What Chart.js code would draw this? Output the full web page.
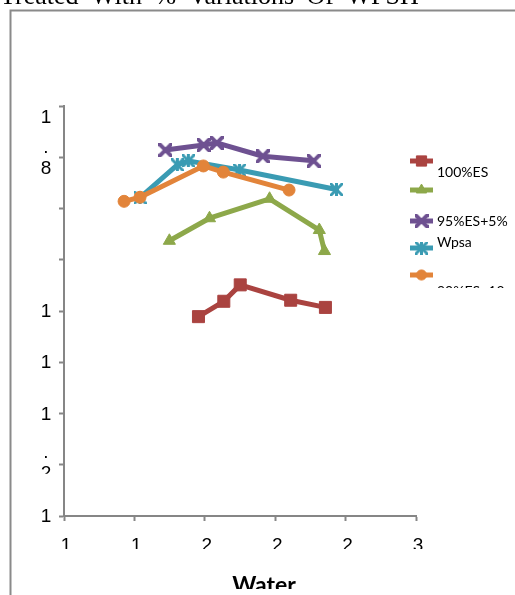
<!DOCTYPE html>
<html>
<head>
<meta charset="utf-8">
<script src="https://cdn.jsdelivr.net/npm/chart.js@4.4.0/dist/chart.umd.min.js"></script>
<style>
  html, body { margin: 0; padding: 0; background: #fff; overflow: hidden; }
  canvas { display: block; }
</style>
</head>
<body>
<canvas id="c" width="515" height="595"></canvas>
<script>
// Compaction curves: dry density against water content for each mix
const titleText = 'Treated With % Variations Of WPSH';
const xAxisTitle = 'Water';

const water100 = [20.73, 21.81, 22.51, 24.66, 26.14];
const density100 = [1.489, 1.519, 1.551, 1.521, 1.507];

const waterB = [19.49, 21.20, 23.76, 25.88, 26.10];
const densityB = [1.637, 1.681, 1.719, 1.658, 1.617];

const water95 = [19.32, 20.95, 21.51, 23.47, 25.64];
const density95 = [1.814, 1.824, 1.828, 1.802, 1.793];

const waterD = [18.24, 19.83, 20.30, 22.48, 26.61];
const densityD = [1.721, 1.785, 1.793, 1.775, 1.737];

const water90 = [17.56, 18.24, 20.94, 21.79, 24.59];
const density90 = [1.714, 1.722, 1.783, 1.771, 1.736];

// Axis range and visible tick texts
const xMin = 15, xMax = 30, xStep = 3;
const yMin = 1.1, yMax = 1.9, yStep = 0.1;
const xTickLabels = ['1', '1', '2', '2', '2', '3'];
// one entry per y tick, bottom to top; each entry is a list of lines
const yTickLabels = [['1'], ['.', '2'], ['1'], ['1'], ['1'], [], [], ['.', '8'], ['', '1']];

const legendText = ['100%ES', '', '95%ES+5%', 'Wpsa', '90%ES+10'];

const colors = ['#AA4340', '#8DA84A', '#6E5191', '#3A9BB3', '#E2843A'];

// Small marker images: an "x" with flat ends and an "x" crossed by a vertical bar
function xMarker(color, size, lw, withBar) {
  const c = document.createElement('canvas');
  c.width = size; c.height = size;
  const g = c.getContext('2d');
  g.strokeStyle = color;
  g.lineWidth = lw;
  g.lineCap = 'butt';
  g.beginPath();
  g.moveTo(-2, -2); g.lineTo(size + 2, size + 2);
  g.moveTo(size + 2, -2); g.lineTo(-2, size + 2);
  if (withBar) { g.moveTo(size / 2, 0); g.lineTo(size / 2, size); }
  g.stroke();
  return c;
}

function pts(xs, ys) { return xs.map((x, i) => ({ x: x, y: ys[i] })); }

function series(label, xs, ys, color, style, radius, pbw, order) {
  return {
    label: label,
    data: pts(xs, ys),
    borderColor: color,
    backgroundColor: color,
    borderWidth: 5,
    borderJoinStyle: 'round',
    borderCapStyle: 'round',
    tension: 0,
    pointStyle: style,
    pointRadius: radius,
    pointBorderWidth: pbw,
    pointBackgroundColor: color,
    pointBorderColor: color,
    order: order
  };
}

const datasets = [
  series(legendText[0], water100, density100, colors[0], 'rect', 8.5, 1, 4),
  series(legendText[1], waterB, densityB, colors[1], 'triangle', 7, 1, 3),
  series(legendText[2], water95, density95, colors[2], xMarker(colors[2], 14, 4, false), 7, 1, 2),
  series(legendText[3], waterD, densityD, colors[3], xMarker(colors[3], 13, 3, true), 7, 1, 1),
  series(legendText[4], water90, density90, colors[4], 'circle', 6, 1, 0)
];

const axisGray = '#868686';

// Frame, title, tick texts, axis title and legend drawn on the canvas
const decor = {
  id: 'decor',
  afterDraw(chart) {
    const ctx = chart.ctx;
    const xs = chart.scales.x, ys = chart.scales.y;

    // outer frame
    ctx.save();
    ctx.strokeStyle = '#8a8a8a';
    ctx.lineWidth = 2;
    ctx.beginPath();
    ctx.moveTo(10.5, 600);
    ctx.lineTo(10.5, 10.5);
    ctx.lineTo(520, 10.5);
    ctx.stroke();
    ctx.restore();

    // title
    ctx.save();
    ctx.fillStyle = '#000';
    ctx.font = '26px "Liberation Serif"';
    ctx.textBaseline = 'alphabetic';
    ctx.textAlign = 'left';
    if ('wordSpacing' in ctx) ctx.wordSpacing = '6px';
    ctx.fillText(titleText, 0, 4);
    ctx.restore();

    // x tick texts
    ctx.save();
    ctx.beginPath();
    ctx.rect(0, 520, 515, 29);
    ctx.clip();
    ctx.fillStyle = '#000';
    ctx.font = '19px "Liberation Sans"';
    ctx.textAlign = 'center';
    ctx.textBaseline = 'alphabetic';
    xs.ticks.forEach((t, i) => {
      const px = xs.getPixelForValue(t.value);
      ctx.fillText(xTickLabels[i] || '', px + 2, 551);
    });
    ctx.restore();

    // y tick texts
    ctx.save();
    ctx.fillStyle = '#000';
    ctx.font = '19px "Liberation Sans"';
    ctx.textAlign = 'center';
    ctx.textBaseline = 'middle';
    const lh = 21;
    ys.ticks.forEach((t, i) => {
      const lines = yTickLabels[i] || [];
      const py = ys.getPixelForValue(t.value);
      const n = lines.length;
      ctx.save();
      if (i === 1) { ctx.beginPath(); ctx.rect(0, 0, 60, py + 9); ctx.clip(); }
      lines.forEach((s, k) => {
        const y = py + (k - (n - 1) / 2) * lh + (i === 1 ? -1 : 1);
        ctx.fillText(s, 46, y);
      });
      ctx.restore();
    });
    ctx.restore();

    // x axis title
    ctx.save();
    ctx.beginPath();
    ctx.rect(0, 560, 515, 29);
    ctx.clip();
    ctx.fillStyle = '#000';
    ctx.font = 'bold 23px Lato';
    ctx.textAlign = 'center';
    ctx.textBaseline = 'alphabetic';
    ctx.fillText(xAxisTitle, 264, 593);
    ctx.restore();

    // legend
    const markerY = [161, 190, 221, 248, 275];
    const textY = [172, 190, 221, 242, 291];
    ctx.save();
    ctx.font = '14px Lato';
    ctx.textAlign = 'left';
    ctx.textBaseline = 'middle';
    chart.data.datasets.forEach((ds, i) => {
      const my = markerY[i];
      ctx.save();
      ctx.strokeStyle = ds.borderColor;
      ctx.fillStyle = ds.backgroundColor;
      ctx.lineWidth = 5;
      ctx.beginPath();
      ctx.moveTo(410, my);
      ctx.lineTo(433, my);
      ctx.stroke();
      ctx.lineWidth = ds.pointBorderWidth;
      Chart.helpers.drawPoint(ctx, {
        pointStyle: ds.pointStyle,
        radius: ds.pointRadius * 0.85,
        rotation: 0,
        borderWidth: ds.pointBorderWidth
      }, 421.5, my);
      ctx.restore();
      const txt = legendText[i];
      if (txt) {
        ctx.save();
        ctx.beginPath();
        ctx.rect(434, 140, 76, 148);
        ctx.clip();
        ctx.fillStyle = '#000';
        ctx.fillText(txt, 437, textY[i]);
        ctx.restore();
      }
    });
    ctx.restore();
  }
};

new Chart(document.getElementById('c'), {
  type: 'line',
  data: { datasets: datasets },
  options: {
    responsive: false,
    animation: false,
    devicePixelRatio: 1,
    events: [],
    layout: { padding: { top: 106, right: 99, left: 0, bottom: 0 } },
    plugins: { legend: { display: false }, title: { display: false }, tooltip: { enabled: false } },
    scales: {
      x: {
        type: 'linear',
        min: xMin, max: xMax,
        ticks: { stepSize: xStep, display: false },
        grid: { drawOnChartArea: false, drawTicks: true, tickLength: 5, tickColor: axisGray, tickWidth: 2 },
        border: { display: true, color: axisGray, width: 2 },
        afterFit(s) { s.height = 79; }
      },
      y: {
        type: 'linear',
        min: yMin, max: yMax,
        ticks: { stepSize: yStep, display: false },
        grid: { drawOnChartArea: false, drawTicks: true, tickLength: 5, tickColor: axisGray, tickWidth: 2 },
        border: { display: true, color: axisGray, width: 2 },
        afterFit(s) { s.width = 64; }
      }
    }
  },
  plugins: [decor]
});
</script>
</body>
</html>
